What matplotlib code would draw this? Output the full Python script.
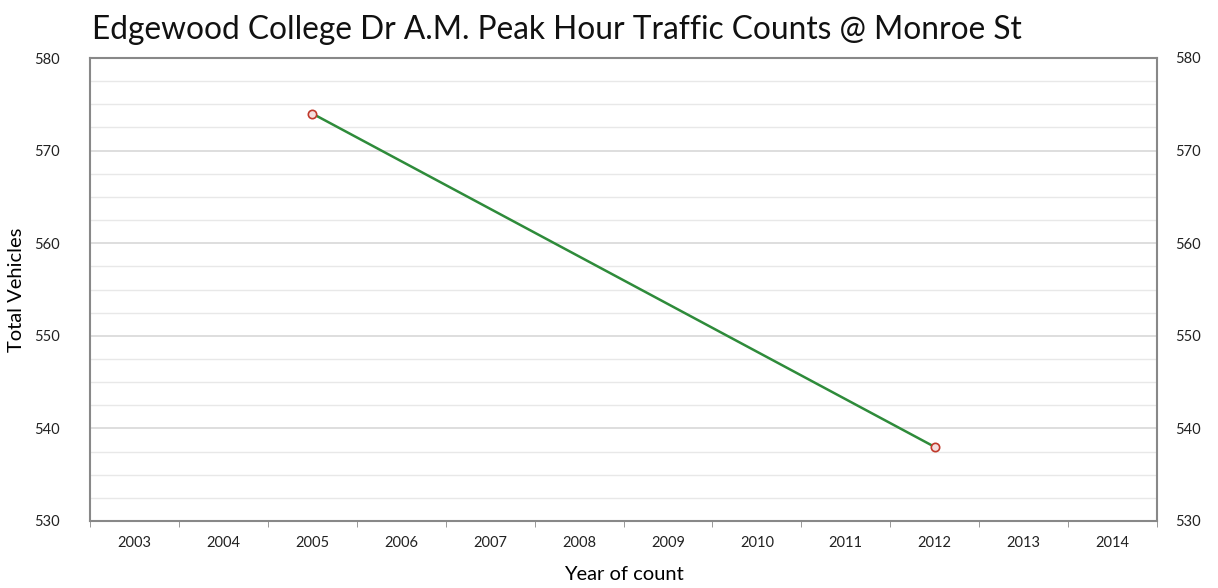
import matplotlib.pyplot as plt
import numpy as np
from matplotlib.ticker import MultipleLocator

years = [2003, 2004, 2005, 2006, 2007, 2008, 2009, 2010, 2011, 2012, 2013, 2014]
count_years = [2005, 2012]
counts = [574, 538]

plt.rcParams["font.family"] = ["Lato", "DejaVu Sans"]

fig = plt.figure(figsize=(12.18, 5.88), dpi=100)
ax = fig.add_axes([90 / 1218, 1 - 521 / 588, 1067 / 1218, 463 / 588])

x = np.arange(len(years))
xs = [years.index(y) for y in count_years]
ax.plot(xs, counts, color="#2e8b3a", lw=1.8, zorder=3)
ax.plot(xs, counts, ls="none", marker="o", ms=6, mfc="#f4dede", mec="#c0392b", mew=1.2, zorder=4)

ax.set_xlim(-0.5, len(years) - 0.5)
ax.set_ylim(530, 580)
ax.set_xticks(x)
ax.set_xticklabels([str(y) for y in years], fontsize=10.5, color="#222222")
ax.set_xticks(np.arange(-0.5, len(years)), minor=True)
ax.tick_params(axis="x", which="major", length=0, pad=11)
ax.tick_params(axis="x", which="minor", length=4, color="#888888")

ax.yaxis.set_major_locator(MultipleLocator(10))
ax.yaxis.set_minor_locator(MultipleLocator(2.5))
ax.tick_params(axis="y", which="both", length=0, labelsize=10.5, labelcolor="#222222", pad=22)
ax.grid(axis="y", which="major", color="#d8d8d8", lw=1.2)
ax.grid(axis="y", which="minor", color="#e8e8e8", lw=1.0)
for s in ax.spines.values():
    s.set_color("#888888")
    s.set_linewidth(1.5)

ax2 = ax.twinx()
ax2.set_ylim(ax.get_ylim())
ax2.yaxis.set_major_locator(MultipleLocator(10))
ax2.tick_params(axis="y", length=0, labelsize=10.5, labelcolor="#222222", pad=13)
for s in ax2.spines.values():
    s.set_visible(False)

ax.set_ylabel("Total Vehicles", fontsize=14.5, labelpad=6)
ax.set_xlabel("Year of count", fontsize=14.5, labelpad=11)
fig.text(92 / 1218, 1 - 30 / 588, "Edgewood College Dr A.M. Peak Hour Traffic Counts @ Monroe St",
         fontsize=22.8, va="center", ha="left", color="#111111")

fig.savefig("out.png", dpi=100)
